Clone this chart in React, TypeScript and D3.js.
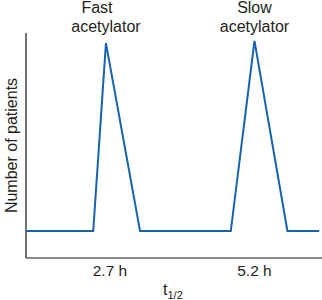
import React from "react";
import * as d3 from "d3";

const W = 322;
const H = 300;

// half-life (h) vs number of patients (relative)
const halfLife = [1.25, 2.41, 2.63, 3.22, 4.79, 5.2, 5.77, 6.32];
const patients = [12, 12, 95.5, 12, 12, 96.5, 12, 12];
const tickValues = [2.7, 5.2];
const tickLabels = ["2.7 h", "5.2 h"];
const peakLabels = [
  { line1: "Fast", line2: "acetylator", t: 2.63, dx1: -9 },
  { line1: "Slow", line2: "acetylator", t: 5.2, dx1: 0 },
];

export default function App() {
  const x = d3.scaleLinear().domain([1.247, 6.368]).range([26, 322]);
  const y = d3.scaleLinear().domain([0, 100]).range([258, 33]);
  const line = d3
    .line<number>()
    .x((_, i) => x(halfLife[i]))
    .y((d) => y(d))
    .curve(d3.curveLinear);
  const font = "'Liberation Sans', Arial, Helvetica, sans-serif";
  const ink = "#231f20";
  return (
    <svg
      width={W}
      height={H}
      style={{ position: "fixed", left: 0, top: 0, background: "#fff" }}
      fontFamily={font}
    >
      <line x1={x.range()[0]} x2={x.range()[1]} y1={y(0)} y2={y(0)} stroke="#666" strokeWidth={1.3} />
      <line x1={x.range()[0]} x2={x.range()[0]} y1={y(0)} y2={y(100)} stroke="#111" strokeWidth={1.2} />
      <path d={line(patients) || ""} fill="none" stroke="#1862b0" strokeWidth={2} strokeLinejoin="miter" />
      {tickValues.map((t, i) => (
        <text key={i} x={x(t)} y={276} textAnchor="middle" fontSize={15.5} fill={ink}>
          {tickLabels[i]}
        </text>
      ))}
      {peakLabels.map((p, i) => (
        <g key={i}>
          <text x={x(p.t) + p.dx1} y={12.5} textAnchor="middle" fontSize={16} fill={ink}>
            {p.line1}
          </text>
          <text x={x(p.t)} y={31.5} textAnchor="middle" fontSize={16} fill={ink}>
            {p.line2}
          </text>
        </g>
      ))}
      <text
        transform={`translate(16.5, ${(y(0) + y(100)) / 2 + 0}) rotate(-90)`}
        textAnchor="middle"
        fontSize={16}
        fill={ink}
      >
        Number of patients
      </text>
      <text x={163} y={295} fontSize={16} fill={ink}>
        t<tspan fontSize={11} dy={4}>1/2</tspan>
      </text>
    </svg>
  );
}
